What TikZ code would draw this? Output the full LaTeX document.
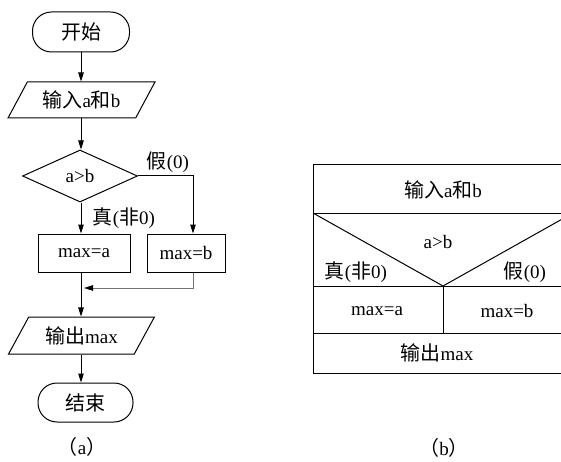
\documentclass[tikz,border=0pt]{standalone}
\usepackage{fontspec}
\setmainfont{Liberation Serif}
\newfontfamily\cjk[Scale=1.05]{Noto Sans CJK SC}
\usetikzlibrary{shapes.geometric,arrows.meta}
\newcommand{\zh}[1]{{\cjk #1}}
\begin{document}
\begin{tikzpicture}[x=1pt,y=-1pt,
  txt/.style={font=\fontsize{19}{22}\selectfont, inner sep=0pt},
  base/.style={txt, draw, line width=1pt},
  term/.style={base, rectangle, rounded corners=19pt},
  io/.style={base, trapezium, trapezium left angle=53, trapezium right angle=127, trapezium stretches=true},
  dec/.style={base, diamond, aspect=2.2},
  proc/.style={base, rectangle},
  conn/.style={line width=1pt, -{Triangle[length=9pt,width=5.5pt]}},
  mergeconn/.style={line width=0.9pt, draw=black!55, -{Triangle[length=9pt,width=5.5pt,black]}},
  tline/.style={line width=1pt}
]
\useasboundingbox (0,0) rectangle (561,462);
\clip (0,0) rectangle (561,462);

% (a) flowchart
\node[term, minimum width=97pt, minimum height=40pt] (start) at (81,32) {\zh{开始}};
\node[io, minimum width=147pt, minimum height=36pt] (in) at (81.5,100) {\zh{输入}a\zh{和}b};
\node[dec, minimum width=115pt, minimum height=52pt] (dec) at (80,176) {a>b};
\node[proc, minimum width=92pt, minimum height=38pt] (pa) at (84,253) {max=a};
\node[proc, minimum width=78pt, minimum height=38pt] (pb) at (186,253) {max=b};
\node[io, minimum width=147pt, minimum height=37pt] (out) at (81.5,335.5) {\zh{输出}max};
\node[term, minimum width=95pt, minimum height=39pt] (end) at (85.5,402.5) {\zh{结束}};

\coordinate (axisS) at (81,52);
\draw[conn] (start.south -| axisS) -- (in.north -| axisS);
\draw[conn] (in.south -| axisS) -- (dec.north -| axisS);
\coordinate (turn) at (193,176);
\draw[conn] (dec.east) -- (turn) -- (turn |- pb.north);
\draw[conn] (dec.south -| axisS) -- (pa.north -| axisS);
\coordinate (merge) at (193,288);
\coordinate (mergeEnd) at (84,288);
\draw[mergeconn] (pb.south -| merge) -- (merge) -- (mergeEnd);
\draw[conn] (pa.south -| axisS) -- (out.north -| axisS);
\draw[conn] (out.south -| axisS) -- (end.north -| axisS);

\node[txt] (lf) at (168,162) {\zh{假}(0)};
\node[txt] (lt) at (124,218) {\zh{真}(\zh{非}0)};
\node[txt] (capa) at (82,447) {\zh{（}a\zh{）}};

% (b) N-S diagram
\coordinate (TL) at (313,165);
\coordinate (BR) at (573,373);
\draw[tline] (TL) rectangle (BR);
\draw[tline] (313,213) -- (573,213);
\draw[tline] (313,286) -- (573,286);
\draw[tline] (313,333) -- (573,333);
\draw[tline] (443,286) -- (443,333);
\draw[tline] (313,213) -- (443,286) -- (573,213);

\node[txt] (bin) at (443,190) {\zh{输入}a\zh{和}b};
\node[txt] (bcond) at (438,242) {a>b};
\node[txt] (btrue) at (356,272) {\zh{真}(\zh{非}0)};
\node[txt] (bfalse) at (525,272) {\zh{假}(0)};
\node[txt] (bma) at (377,311) {max=a};
\node[txt] (bmb) at (507,311) {max=b};
\node[txt] (bout) at (437,353) {\zh{输出}max};
\node[txt] (capb) at (444,448) {\zh{（}b\zh{）}};
\end{tikzpicture}
\end{document}
